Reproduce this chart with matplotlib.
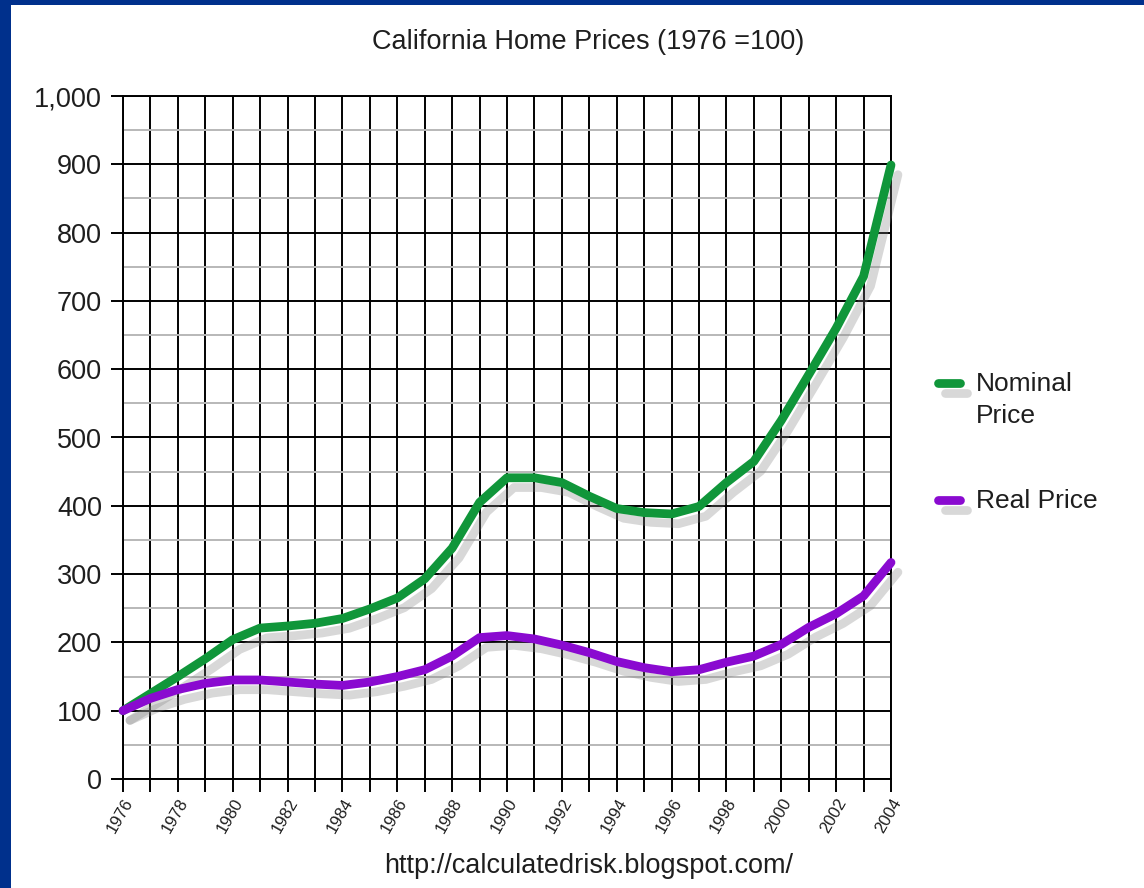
import numpy as np
import matplotlib
matplotlib.use('Agg')
import matplotlib.pyplot as plt
import matplotlib.patheffects as pe
from matplotlib.lines import Line2D
from matplotlib.patches import Rectangle

plt.rcParams['font.family'] = ['Liberation Sans', 'DejaVu Sans']

# Data (1976 = 100)
years = list(range(1976, 2005))
nominal = [100, 125, 150, 176, 204, 221, 224, 228, 235, 249, 265, 293, 338, 405, 441,
           441, 434, 414, 396, 390, 388, 399, 434, 465, 525, 592, 660, 736, 899]
real = [100, 118, 131, 140, 145, 145, 142, 139, 137, 142, 150, 160, 180, 207, 210,
        205, 196, 185, 172, 163, 157, 160, 171, 180, 197, 222, 242, 268, 317]
ytick_vals = list(range(0, 1001, 100))
ytick_labels = ['0', '100', '200', '300', '400', '500', '600', '700', '800', '900', '1,000']

green = '#10963a'
purple = '#8a0ad0'
border = '#00308c'
txt = '#1e1e1e'

fig = plt.figure(figsize=(11.44, 8.88), dpi=100)
fig.patch.set_facecolor(border)
# white slide area inside the blue frame
fig.add_artist(Rectangle((11 / 1144, 0), 1, 1 - 5 / 888, transform=fig.transFigure,
                         facecolor='white', edgecolor='none', zorder=0))

ax = fig.add_axes([123 / 1144, 109 / 888, 768 / 1144, 683 / 888])
ax.set_facecolor('white')

shadow = [pe.SimpleLineShadow(offset=(5, -7), shadow_color='#808080', alpha=0.3),
          pe.Normal()]
ax.plot(years, nominal, color=green, lw=6.3, solid_joinstyle='round',
        solid_capstyle='round', path_effects=shadow, zorder=5, clip_on=False)
ax.plot(years, real, color=purple, lw=6.3, solid_joinstyle='round',
        solid_capstyle='round', path_effects=shadow, zorder=5, clip_on=False)

ax.set_xlim(1976, 2004)
ax.set_ylim(0, 1000)

# grid: every year vertically, every 100 black / every 50 grey horizontally
ax.set_xticks(years)
ax.set_xticklabels([str(y) if y % 2 == 0 else '' for y in years],
                   rotation=60, ha='right', va='top', rotation_mode='anchor',
                   fontsize=12, color=txt)
ax.set_yticks(ytick_vals)
ax.set_yticklabels(ytick_labels, fontsize=19.5, color=txt)
ax.set_yticks(list(range(50, 1000, 100)), minor=True)
ax.grid(True, which='major', color='black', lw=1.4, zorder=1)
ax.grid(True, which='minor', axis='y', color='#b8b8b8', lw=1.4, zorder=1)
ax.tick_params(axis='both', which='major', length=9, width=1.4, color='black', direction='out')
ax.tick_params(axis='x', pad=3)
ax.tick_params(axis='y', pad=6)
ax.tick_params(axis='y', which='minor', length=0)
for s in ax.spines.values():
    s.set_color('black')
    s.set_linewidth(1.4)
ax.set_axisbelow(True)

fig.text(588 / 1144, 1 - 42 / 888, 'California Home Prices (1976 =100)',
         ha='center', va='center', fontsize=19.5, color=txt)
fig.text(589 / 1144, 1 - 866 / 888, 'http://calculatedrisk.blogspot.com/',
         ha='center', va='center', fontsize=19.5, color=txt)

# legend drawn at the right of the plot
for col, ly, label in [(green, 383, 'Nominal\nPrice'), (purple, 500, 'Real Price')]:
    yy = 1 - ly / 888
    fig.add_artist(Line2D([938 / 1144, 960 / 1144], [yy, yy], transform=fig.transFigure,
                          color=col, lw=6.3, solid_capstyle='round',
                          path_effects=shadow))
    fig.text(976 / 1144, yy + 11 / 888, label, ha='left', va='top', fontsize=19,
             color=txt, linespacing=1.4)

fig.savefig('out.png', dpi=100, facecolor=fig.get_facecolor())
